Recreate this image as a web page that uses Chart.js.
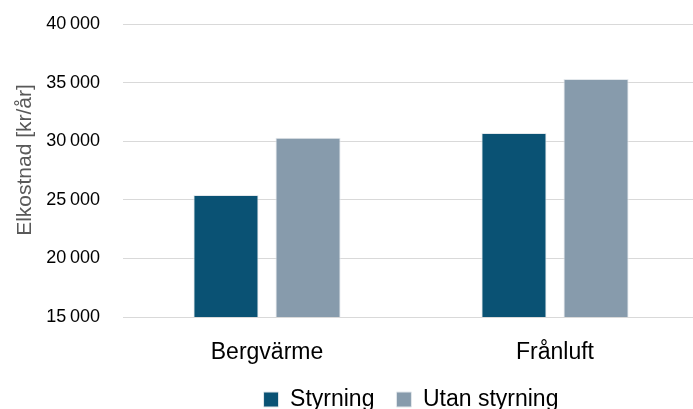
<!DOCTYPE html>
<html lang="sv">
<head>
<meta charset="utf-8">
<title>Elkostnad</title>
<script src="https://cdn.jsdelivr.net/npm/chart.js@4/dist/chart.umd.min.js"></script>
<style>
  html, body { margin: 0; padding: 0; background: #fff; overflow: hidden; }
  #wrap { width: 700px; height: 421px; }
</style>
</head>
<body>
<div id="wrap"><canvas id="cost" width="700" height="421"></canvas></div>
<script>
  'use strict';

  // values (kr/år)
  var categories = ['Bergvärme', 'Frånluft'];
  var styrning = [25400, 30700];
  var utanStyrning = [30300, 35300];
  var yTicks = [15000, 20000, 25000, 30000, 35000, 40000];

  var DARK = '#0A5274';
  var GREY = '#879BAC';
  var FONT = '"Liberation Sans", Arial, sans-serif';

  // "40 000" style, thin space as thousands separator
  function kr(v) {
    var s = String(Math.round(v));
    return s.replace(/\B(?=(\d{3})+(?!\d))/g, '\u2009');
  }

  var ctx = document.getElementById('cost').getContext('2d');
  new Chart(ctx, {
    type: 'bar',
    data: {
      labels: categories,
      datasets: [{
        label: 'Styrning',
        data: styrning,
        backgroundColor: DARK,
        borderColor: '#e3e8ec',
        borderWidth: 1
      }, {
        label: 'Utan styrning',
        data: utanStyrning,
        backgroundColor: GREY,
        borderColor: '#e3e8ec',
        borderWidth: 1
      }]
    },
    options: {
      responsive: false,
      animation: false,
      devicePixelRatio: 1,
      layout: { padding: { top: 24, right: 1, left: 0, bottom: 0 } },
      datasets: { bar: { categoryPercentage: 0.57, barPercentage: 0.793 } },
      plugins: {
        tooltip: { enabled: false },
        legend: {
          position: 'bottom',
          fullSize: false,
          labels: {
            boxWidth: 15,
            boxHeight: 15,
            padding: 22,
            color: '#000',
            font: { family: FONT, size: 23 }
          }
        }
      },
      scales: {
        x: {
          grid: { display: false },
          border: { display: false },
          ticks: { color: '#000', padding: 14, font: { family: FONT, size: 23 } },
          afterFit: function (scale) { scale.height = 49; }
        },
        y: {
          min: 15000,
          max: 40000,
          afterBuildTicks: function (scale) {
            scale.ticks = yTicks.map(function (v) { return { value: v }; });
          },
          grid: { color: '#d9d9d9', lineWidth: 1, drawTicks: false },
          border: { display: false },
          ticks: {
            color: '#000',
            padding: 23,
            font: { family: FONT, size: 18 },
            callback: function (v) { return kr(v); }
          },
          title: {
            display: true,
            text: '\u2002\u2002Elkostnad [kr/år]',
            color: '#595959',
            padding: { top: 13, bottom: 0 },
            font: { family: FONT, size: 21 }
          },
          afterFit: function (scale) {
            scale.width = 123;
            // tick padding should not push the plot area down
            scale.paddingTop = 0;
            scale.paddingBottom = 0;
          }
        }
      }
    }
  });
</script>
</body>
</html>
